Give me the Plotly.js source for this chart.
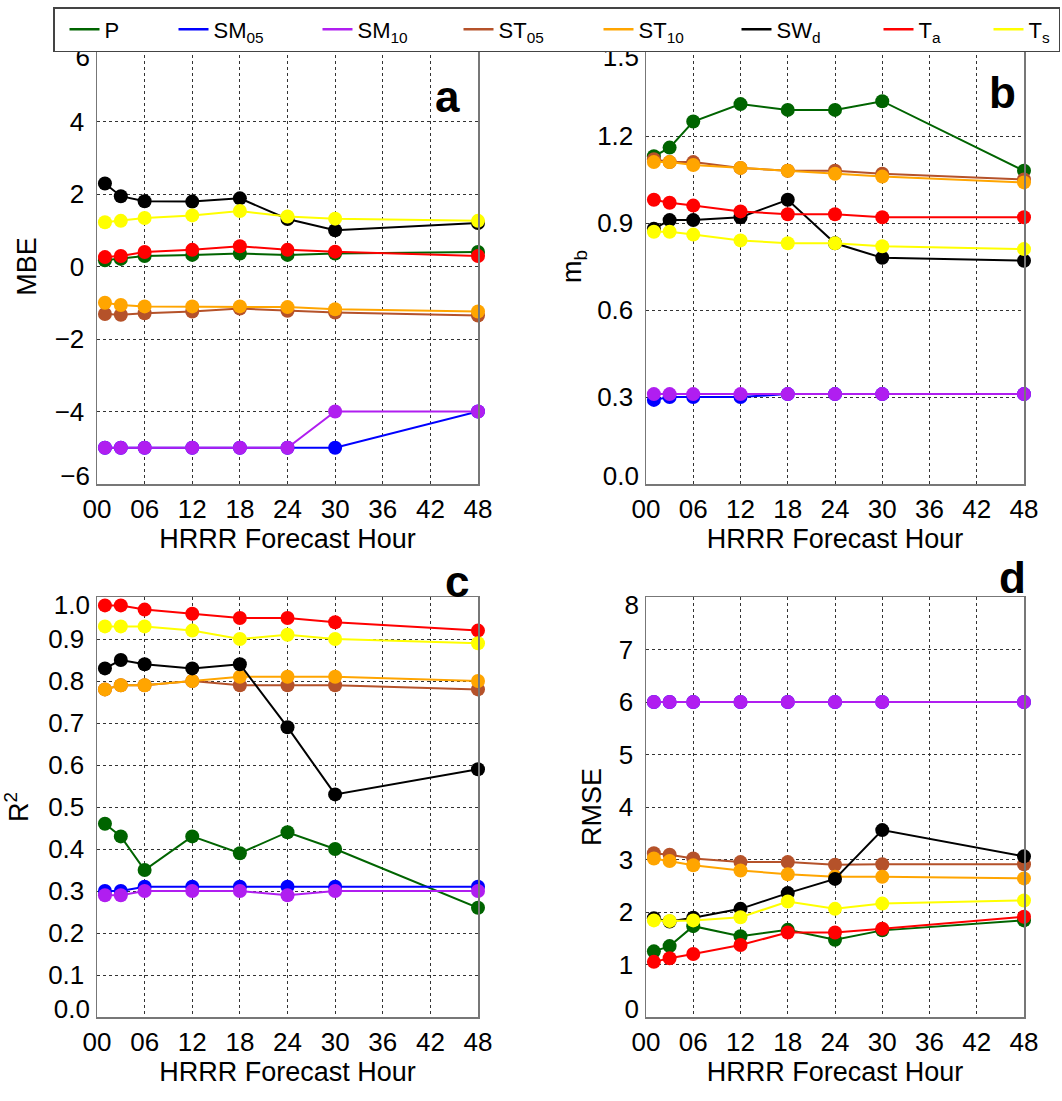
<!DOCTYPE html>
<html>
<head>
<meta charset="utf-8">
<script src="https://cdn.plot.ly/plotly-3.0.1.min.js"></script>
<style>
html,body{margin:0;padding:0;background:#fff;}
#chart{width:1062px;height:1101px;}
</style>
</head>
<body>
<div id="chart"></div>
<script>
// ---------------- data ----------------
const hours = [1, 3, 6, 12, 18, 24, 30, 48];
const xTickVals = [0, 6, 12, 18, 24, 30, 36, 42, 48];
const xTickText = ["00", "06", "12", "18", "24", "30", "36", "42", "48"];
const seriesNames = ["P", "SM<sub>05</sub>", "SM<sub>10</sub>", "ST<sub>05</sub>", "ST<sub>10</sub>", "SW<sub>d</sub>", "T<sub>a</sub>", "T<sub>s</sub>"];

// y tick values and labels per panel
const yTicksA = [-6, -4, -2, 0, 2, 4, 6];
const yLabelsA = ["\u22126", "\u22124", "\u22122", "0", "2", "4", "6"];
const yTicksB = [0, 0.3, 0.6, 0.9, 1.2, 1.5];
const yLabelsB = ["0.0", "0.3", "0.6", "0.9", "1.2", "1.5"];
const yTicksC = [0, 0.1, 0.2, 0.3, 0.4, 0.5, 0.6, 0.7, 0.8, 0.9, 1.0];
const yLabelsC = ["0.0", "0.1", "0.2", "0.3", "0.4", "0.5", "0.6", "0.7", "0.8", "0.9", "1.0"];
const yTicksD = [0, 1, 2, 3, 4, 5, 6, 7, 8];
const yLabelsD = ["0", "1", "2", "3", "4", "5", "6", "7", "8"];

// panel a: MBE
const mbe_P    = [0.17, 0.21, 0.29, 0.32, 0.36, 0.32, 0.36, 0.40];
const mbe_SM05 = [-5, -5, -5, -5, -5, -5, -5, -4];
const mbe_SM10 = [-5, -5, -5, -5, -5, -5, -4, -4];
const mbe_ST05 = [-1.31, -1.33, -1.29, -1.24, -1.16, -1.22, -1.27, -1.35];
const mbe_ST10 = [-1.00, -1.06, -1.10, -1.10, -1.10, -1.12, -1.18, -1.24];
const mbe_SWd  = [2.29, 1.94, 1.80, 1.79, 1.88, 1.31, 1.00, 1.20];
const mbe_Ta   = [0.26, 0.29, 0.40, 0.46, 0.56, 0.46, 0.41, 0.29];
const mbe_Ts   = [1.22, 1.26, 1.34, 1.41, 1.53, 1.38, 1.32, 1.26];

// panel b: m_b
const mb_P    = [1.13, 1.16, 1.25, 1.31, 1.29, 1.29, 1.32, 1.08];
const mb_SM05 = [0.29, 0.30, 0.30, 0.30, 0.31, 0.31, 0.31, 0.31];
const mb_SM10 = [0.31, 0.31, 0.31, 0.31, 0.31, 0.31, 0.31, 0.31];
const mb_ST05 = [1.12, 1.11, 1.11, 1.09, 1.08, 1.08, 1.07, 1.05];
const mb_ST10 = [1.11, 1.11, 1.10, 1.09, 1.08, 1.07, 1.06, 1.04];
const mb_SWd  = [0.88, 0.91, 0.91, 0.92, 0.98, 0.83, 0.78, 0.77];
const mb_Ta   = [0.98, 0.97, 0.96, 0.94, 0.93, 0.93, 0.92, 0.92];
const mb_Ts   = [0.87, 0.87, 0.86, 0.84, 0.83, 0.83, 0.82, 0.81];

// panel c: R^2
const r2_P    = [0.46, 0.43, 0.35, 0.43, 0.39, 0.44, 0.40, 0.26];
const r2_SM05 = [0.30, 0.30, 0.31, 0.31, 0.31, 0.31, 0.31, 0.31];
const r2_SM10 = [0.29, 0.29, 0.30, 0.30, 0.30, 0.29, 0.30, 0.30];
const r2_ST05 = [0.78, 0.79, 0.79, 0.80, 0.79, 0.79, 0.79, 0.78];
const r2_ST10 = [0.78, 0.79, 0.79, 0.80, 0.81, 0.81, 0.81, 0.80];
const r2_SWd  = [0.83, 0.85, 0.84, 0.83, 0.84, 0.69, 0.53, 0.59];
const r2_Ta   = [0.98, 0.98, 0.97, 0.96, 0.95, 0.95, 0.94, 0.92];
const r2_Ts   = [0.93, 0.93, 0.93, 0.92, 0.90, 0.91, 0.90, 0.89];

// panel d: RMSE
const rmse_P    = [1.25, 1.35, 1.73, 1.54, 1.66, 1.47, 1.65, 1.84];
const rmse_SM05 = [6, 6, 6, 6, 6, 6, 6, 6];
const rmse_SM10 = [6, 6, 6, 6, 6, 6, 6, 6];
const rmse_ST05 = [3.12, 3.09, 3.02, 2.95, 2.95, 2.90, 2.91, 2.91];
const rmse_ST10 = [3.02, 2.97, 2.89, 2.79, 2.72, 2.67, 2.67, 2.64];
const rmse_SWd  = [1.88, 1.82, 1.89, 2.06, 2.36, 2.63, 3.56, 3.06];
const rmse_Ta   = [1.05, 1.12, 1.20, 1.37, 1.61, 1.61, 1.68, 1.91];
const rmse_Ts   = [1.84, 1.83, 1.84, 1.90, 2.20, 2.06, 2.16, 2.22];

// ---------------- styles ----------------
const colors = ["#006400", "#0000ff", "#b01ef0", "#b5522a", "#ffa500", "#000000", "#ff0000", "#ffff00"];
const legendWidths = [54, 89, 86, 85, 83, 87, 55, 25];
const FONT = "Liberation Sans, Arial, Helvetica, sans-serif";
const TICKSIZE = 26, TITLESIZE = 27;

const panels = [
  {x: "x",  y: "y",  series: [mbe_P, mbe_SM05, mbe_SM10, mbe_ST05, mbe_ST10, mbe_SWd, mbe_Ta, mbe_Ts]},
  {x: "x2", y: "y2", series: [mb_P, mb_SM05, mb_SM10, mb_ST05, mb_ST10, mb_SWd, mb_Ta, mb_Ts]},
  {x: "x3", y: "y3", series: [r2_P, r2_SM05, r2_SM10, r2_ST05, r2_ST10, r2_SWd, r2_Ta, r2_Ts]},
  {x: "x4", y: "y4", series: [rmse_P, rmse_SM05, rmse_SM10, rmse_ST05, rmse_ST10, rmse_SWd, rmse_Ta, rmse_Ts]}
];

const traces = [];
panels.forEach((p) => {
  p.series.forEach((vals, si) => {
    traces.push({
      type: "scatter", mode: "lines+markers",
      x: hours, y: vals, xaxis: p.x, yaxis: p.y,
      name: seriesNames[si], legendgroup: "g" + si, showlegend: false,
      line: {color: colors[si], width: 2},
      marker: {color: colors[si], size: 14},
      cliponaxis: false, hoverinfo: "skip"
    });
  });
});
// legend entries (line only)
seriesNames.forEach((nm, si) => {
  traces.push({
    type: "scatter", mode: "lines", x: [null], y: [null], xaxis: "x", yaxis: "y",
    name: nm, legendgroup: "g" + si, showlegend: true, legendwidth: legendWidths[si],
    line: {color: colors[si], width: 2.5}, hoverinfo: "skip"
  });
});
// empty traces so the end-label overlay axes are drawn
const overlayPairs = [["x", "y5"], ["x", "y6"], ["x2", "y7"], ["x2", "y8"], ["x3", "y9"], ["x3", "y10"], ["x4", "y11"], ["x4", "y12"]];
overlayPairs.forEach(pr => {
  traces.push({type: "scatter", mode: "markers", x: [null], y: [null], xaxis: pr[0], yaxis: pr[1],
               showlegend: false, hoverinfo: "skip"});
});

const W = 1062, H = 1101;
function xd(l, r) { return [l / W, r / W]; }
function yd(t, b) { return [1 - b / H, 1 - t / H]; }

const gridStyle = {showgrid: true, gridcolor: "#333", griddash: "dot", gridwidth: 1};
const frameStyle = {showline: true, mirror: true, linecolor: "#777", linewidth: 1.5, zeroline: false};
const tickFont = {family: FONT, size: TICKSIZE, color: "#000"};

function xAxis(dom, anchor) {
  return Object.assign({
    domain: dom, anchor: anchor, range: [0, 48],
    tickmode: "array", tickvals: xTickVals, ticktext: xTickText,
    ticks: "", ticklabelstandoff: 1, tickfont: tickFont,
    title: {text: "HRRR Forecast Hour", font: {family: FONT, size: TITLESIZE, color: "#000"}, standoff: 2},
    fixedrange: true
  }, gridStyle, frameStyle);
}
function yAxis(dom, anchor, vals, labels, title, standoff) {
  const range = [vals[0], vals[vals.length - 1]];
  return Object.assign({
    domain: dom, anchor: anchor, range: range,
    tickmode: "array", tickvals: vals.slice(1, -1), ticktext: labels.slice(1, -1),
    ticks: "", ticklabelstandoff: 6, tickfont: tickFont,
    title: {text: title, font: {family: FONT, size: TITLESIZE, color: "#000"}, standoff: standoff},
    fixedrange: true
  }, gridStyle, frameStyle);
}
// overlay axis that carries one end label, shifted inward like the reference
function yEnd(over, anchor, vals, labels, which) {
  const range = [vals[0], vals[vals.length - 1]];
  const i = which === "top" ? vals.length - 1 : 0;
  return {
    overlaying: over, anchor: anchor, side: "left", range: range,
    tickmode: "array", tickvals: [vals[i]], ticktext: [labels[i]],
    ticks: "", ticklabelstandoff: 6, ticklabelshift: which === "top" ? 8 : -8,
    tickfont: tickFont, showgrid: false, showline: false, zeroline: false, fixedrange: true
  };
}

const layout = {
  width: W, height: H,
  margin: {l: 0, r: 0, t: 0, b: 0},
  paper_bgcolor: "#fff", plot_bgcolor: "#fff",
  font: {family: FONT, color: "#000"},
  showlegend: true,
  legend: {
    orientation: "h", x: 53 / W, y: 1 - 7 / H, xanchor: "left", yanchor: "top",
    bordercolor: "#444", borderwidth: 1.5, bgcolor: "#fff", indentation: 10,
    font: {family: FONT, size: 22, color: "#000"},
    traceorder: "normal", itemclick: false, itemdoubleclick: false
  },
  xaxis:  xAxis(xd(97, 478), "y"),
  xaxis2: xAxis(xd(646, 1024), "y2"),
  xaxis3: xAxis(xd(97, 478), "y3"),
  xaxis4: xAxis(xd(646, 1024), "y4"),
  yaxis:  yAxis(yd(49, 484),   "x",  yTicksA, yLabelsA, "MBE", 10),
  yaxis2: yAxis(yd(49, 484),   "x2", yTicksB, yLabelsB, "m<sub>b</sub>", 7),
  yaxis3: yAxis(yd(597, 1017), "x3", yTicksC, yLabelsC, "R<sup>2</sup>", 14),
  yaxis4: yAxis(yd(597, 1017), "x4", yTicksD, yLabelsD, "RMSE", 9),
  yaxis5:  yEnd("y",  "x",  yTicksA, yLabelsA, "top"),
  yaxis6:  yEnd("y",  "x",  yTicksA, yLabelsA, "bottom"),
  yaxis7:  yEnd("y2", "x2", yTicksB, yLabelsB, "top"),
  yaxis8:  yEnd("y2", "x2", yTicksB, yLabelsB, "bottom"),
  yaxis9:  yEnd("y3", "x3", yTicksC, yLabelsC, "top"),
  yaxis10: yEnd("y3", "x3", yTicksC, yLabelsC, "bottom"),
  yaxis11: yEnd("y4", "x4", yTicksD, yLabelsD, "top"),
  yaxis12: yEnd("y4", "x4", yTicksD, yLabelsD, "bottom"),
  annotations: [
    {text: "<b>a</b>", x: 447 / W, y: 1 - 97 / H},
    {text: "<b>b</b>", x: 1002 / W, y: 1 - 92 / H},
    {text: "<b>c</b>", x: 457 / W, y: 1 - 581 / H},
    {text: "<b>d</b>", x: 1012 / W, y: 1 - 577 / H}
  ].map(a => Object.assign(a, {xref: "paper", yref: "paper", showarrow: false,
        xanchor: "center", yanchor: "middle", font: {family: FONT, size: 44, color: "#000"}}))
};

Plotly.newPlot("chart", traces, layout, {displayModeBar: false, staticPlot: true});
</script>
</body>
</html>
